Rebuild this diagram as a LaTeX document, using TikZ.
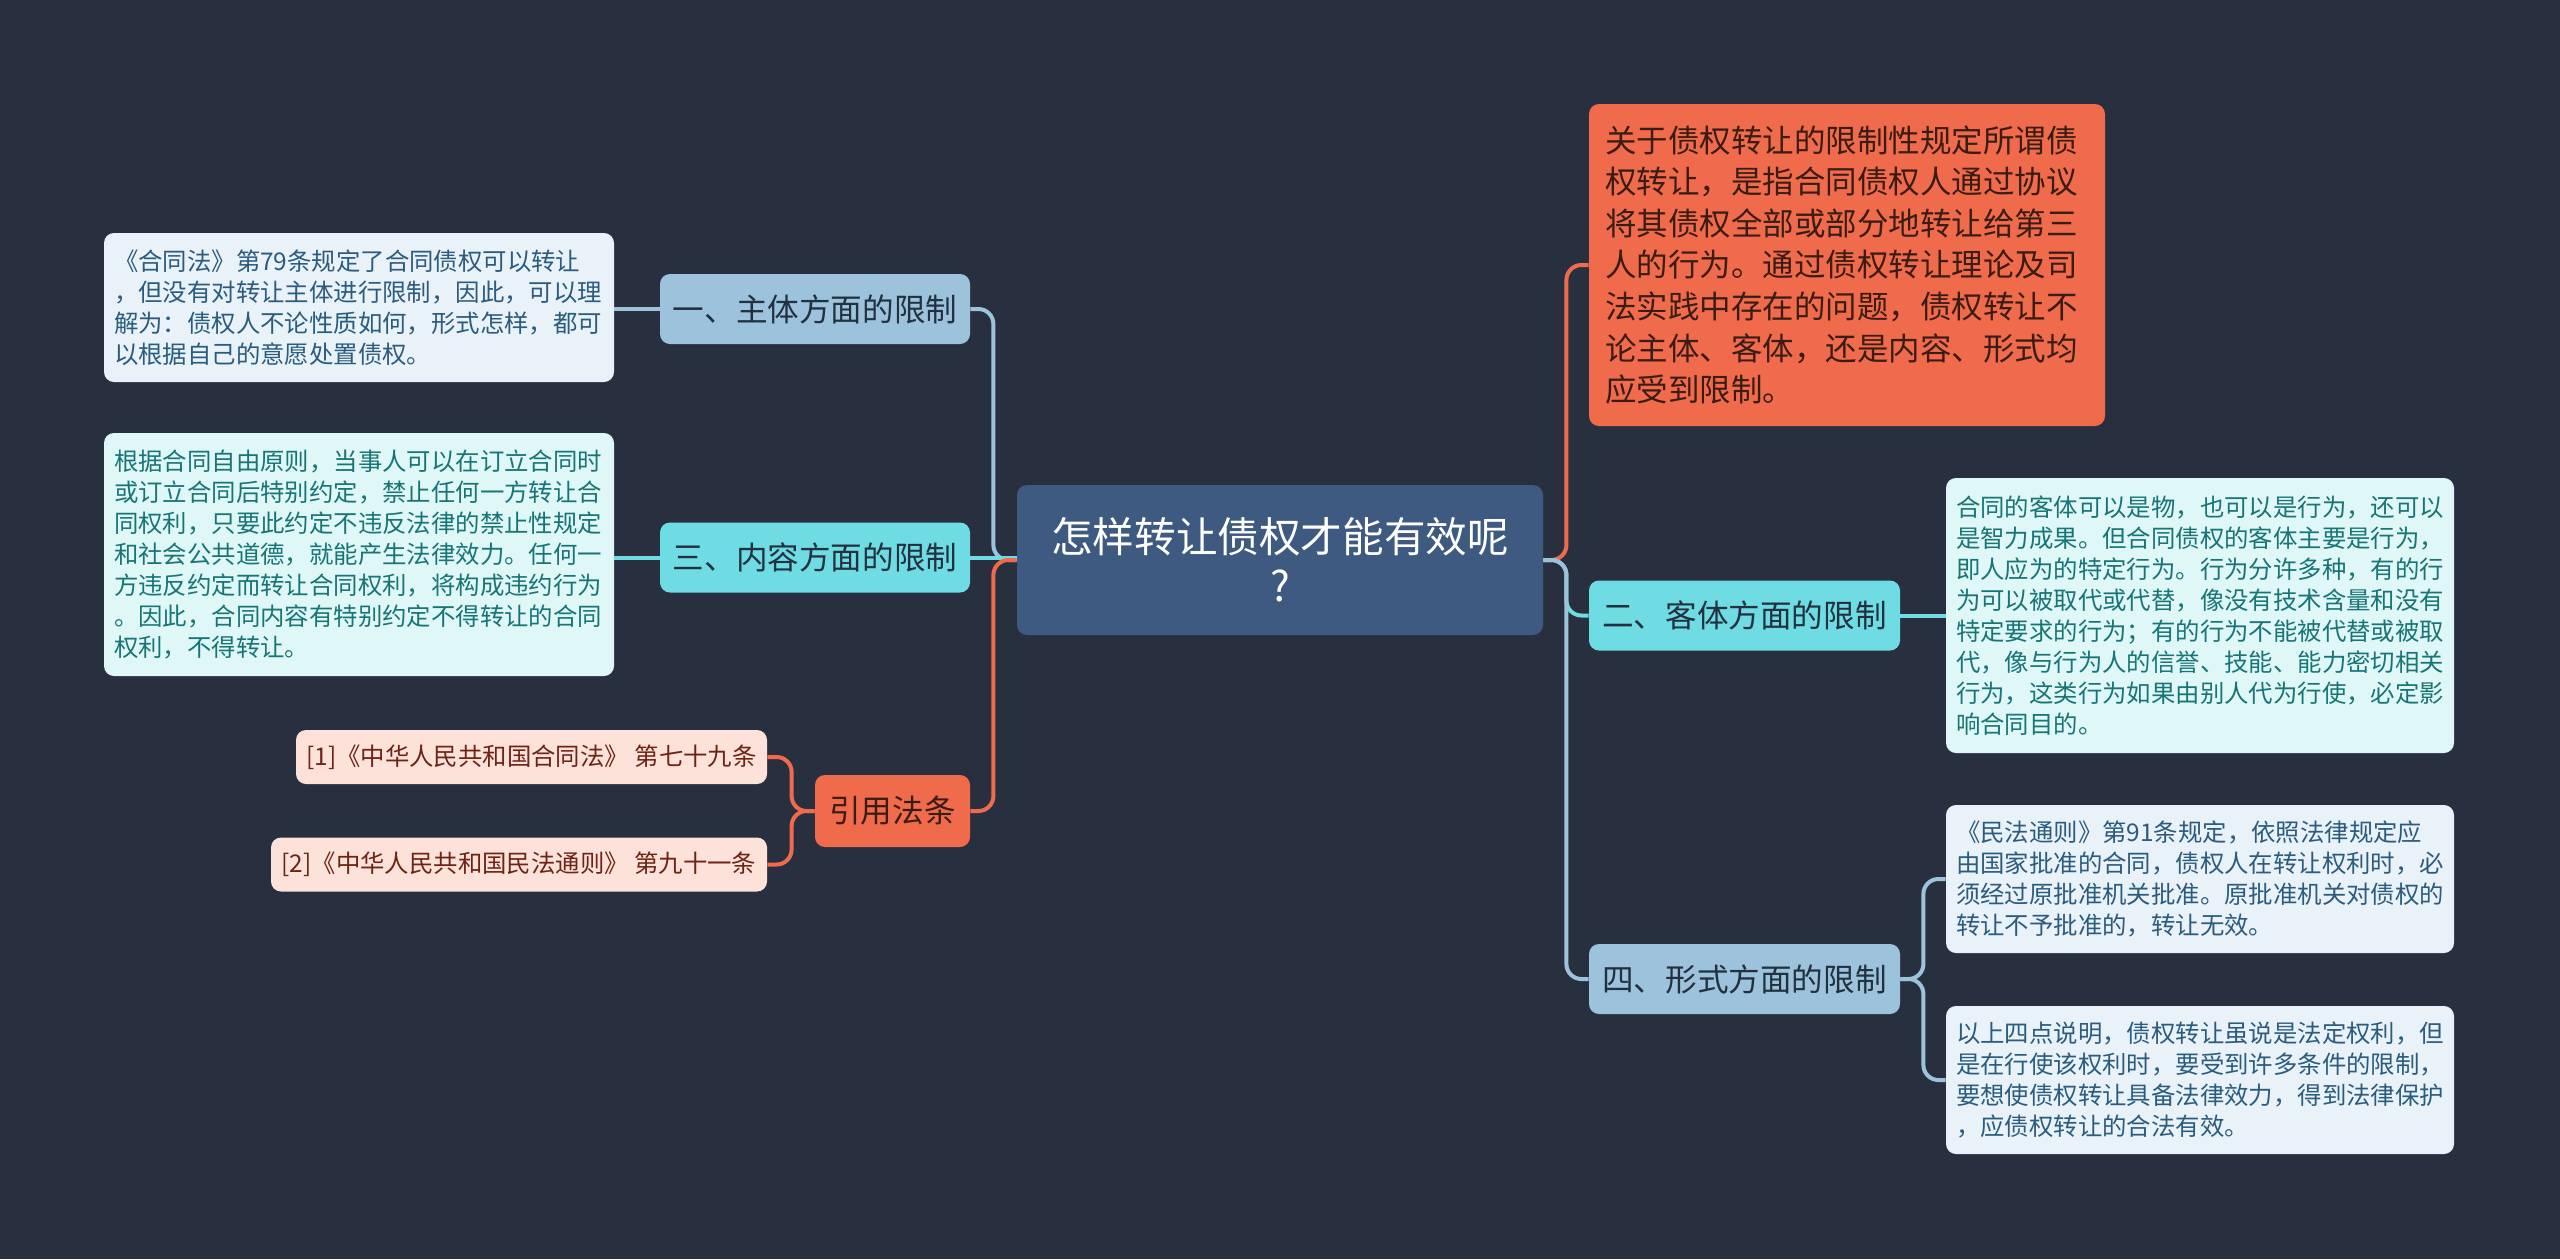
\documentclass[tikz,border=0pt]{standalone}
\usepackage{fontspec}
\setmainfont{Noto Sans CJK SC}
\definecolor{bg}{HTML}{283040}
\definecolor{cfill}{HTML}{3E5A80}
\definecolor{bluef}{HTML}{9DC3DC}
\definecolor{cyanf}{HTML}{6EDCE2}
\definecolor{orgf}{HTML}{EF6B4C}
\definecolor{leafb}{HTML}{E8F2F8}
\definecolor{leafc}{HTML}{DFF7F7}
\definecolor{reff}{HTML}{FCE2D9}
\definecolor{txtb}{HTML}{2B5C7E}
\definecolor{txtc}{HTML}{187575}
\definecolor{txtr}{HTML}{6E2414}
\definecolor{txto}{HTML}{3A1C12}
\definecolor{txtk}{HTML}{22313F}
\tikzset{
  box/.style={rounded corners=5pt, inner ysep=0pt},
  central/.style={box, fill=cfill, text=white, align=center,
    font=\fontsize{20.8pt}{24.5pt}\selectfont, minimum width=263pt, minimum height=75pt},
  branch/.style={box, font=\fontsize{15.8pt}{19pt}\selectfont, text=txtk, inner xsep=4pt,
    minimum height=35pt},
  leaf/.style={box, font=\fontsize{12.2pt}{15.5pt}\selectfont, align=left,
    text width=245pt, inner xsep=5pt},
  refbox/.style={box, fill=reff, text=txtr, font=\fontsize{12.2pt}{15pt}\selectfont,
    minimum height=27pt},
  bline/.style={draw=bluef, line width=2pt, rounded corners=7.5pt},
  cline/.style={draw=cyanf, line width=2pt, rounded corners=7.5pt},
  oline/.style={draw=orgf, line width=2pt, rounded corners=7.5pt},
}
\begin{document}
\begin{tikzpicture}[x=0.5pt,y=-0.5pt]
\fill[bg] (0,0) rectangle (2560,1259);
\useasboundingbox (0,0) rectangle (2560,1259);

% nodes
\node[central] (c) at (1280,560) {怎样转让债权才能有效呢\\?};

\node[branch, fill=bluef, minimum width=155pt] (b1) at (815,309) {一、主体方面的限制};
\node[branch, fill=cyanf, minimum width=155pt] (b3) at (815,557.5) {三、内容方面的限制};
\node[branch, fill=orgf, text=txto, minimum width=77.5pt, minimum height=36pt] (br) at (892.5,811) {引用法条};

\node[leaf, fill=leafb, text=txtb, minimum height=74.5pt] (l1) at (359,307.5) {《合同法》第79条规定了合同债权可以转让\\，但没有对转让主体进行限制，因此，可以理\\解为：债权人不论性质如何，形式怎样，都可\\以根据自己的意愿处置债权。};
\node[leaf, fill=leafc, text=txtc, minimum height=121.5pt] (l3) at (359,554.5) {根据合同自由原则，当事人可以在订立合同时\\或订立合同后特别约定，禁止任何一方转让合\\同权利，只要此约定不违反法律的禁止性规定\\和社会公共道德，就能产生法律效力。任何一\\方违反约定而转让合同权利，将构成违约行为\\。因此，合同内容有特别约定不得转让的合同\\权利，不得转让。};

\node[refbox, minimum width=235.5pt] (r1) at (531.5,757) {[1]《中华人民共和国合同法》 第七十九条};
\node[refbox, minimum width=248pt] (r2) at (519,864.5) {[2]《中华人民共和国民法通则》 第九十一条};

\node[box, fill=orgf, text=txto, align=left, text width=242pt, inner xsep=8pt,
  font=\fontsize{15.75pt}{20.8pt}\selectfont, minimum height=161pt] (t) at (1847,265)
  {关于债权转让的限制性规定所谓债\\权转让，是指合同债权人通过协议\\将其债权全部或部分地转让给第三\\人的行为。通过债权转让理论及司\\法实践中存在的问题，债权转让不\\论主体、客体，还是内容、形式均\\应受到限制。};

\node[branch, fill=cyanf, minimum width=155.5pt] (k2) at (1744.5,615.5) {二、客体方面的限制};
\node[branch, fill=bluef, minimum width=155.5pt] (k4) at (1744.5,979) {四、形式方面的限制};

\node[leaf, fill=leafc, text=txtc, text width=244pt, minimum height=137.5pt] (l2) at (2200,615.5) {合同的客体可以是物，也可以是行为，还可以\\是智力成果。但合同债权的客体主要是行为，\\即人应为的特定行为。行为分许多种，有的行\\为可以被取代或代替，像没有技术含量和没有\\特定要求的行为；有的行为不能被代替或被取\\代，像与行为人的信誉、技能、能力密切相关\\行为，这类行为如果由别人代为行使，必定影\\响合同目的。};
\node[leaf, fill=leafb, text=txtb, text width=244pt, minimum height=74pt] (l4a) at (2200,879) {《民法通则》第91条规定，依照法律规定应\\由国家批准的合同，债权人在转让权利时，必\\须经过原批准机关批准。原批准机关对债权的\\转让不予批准的，转让无效。};
\node[leaf, fill=leafb, text=txtb, text width=244pt, minimum height=74pt] (l4b) at (2200,1080) {以上四点说明，债权转让虽说是法定权利，但\\是在行使该权利时，要受到许多条件的限制，\\要想使债权转让具备法律效力，得到法律保护\\，应债权转让的合法有效。};

% connectors
\path[bline] (b1.east) -- ++(23,0) |- (c.west);
\path[cline] (b3.east) -- (c.west |- b3.east);
\path[oline] (br.east) -- ++(23,0) |- (c.west);
\path[bline] (b1.west) -- (l1.east |- b1.west);
\path[cline] (b3.west) -- (l3.east |- b3.west);
\path[oline] (br.west) -- ++(-23,0) |- (r1.east);
\path[oline] (br.west) -- ++(-23,0) |- (r2.east);

\path[oline] (c.east) -- ++(23,0) |- (t.west);
\path[cline] (c.east) -- ++(23,0) |- (k2.west);
\path[bline] (c.east) -- ++(23,0) |- (k4.west);
\path[cline] (k2.east) -- (l2.west |- k2.east);
\path[bline] (k4.east) -- ++(23,0) |- (l4a.west);
\path[bline] (k4.east) -- ++(23,0) |- (l4b.west);
\end{tikzpicture}
\end{document}
